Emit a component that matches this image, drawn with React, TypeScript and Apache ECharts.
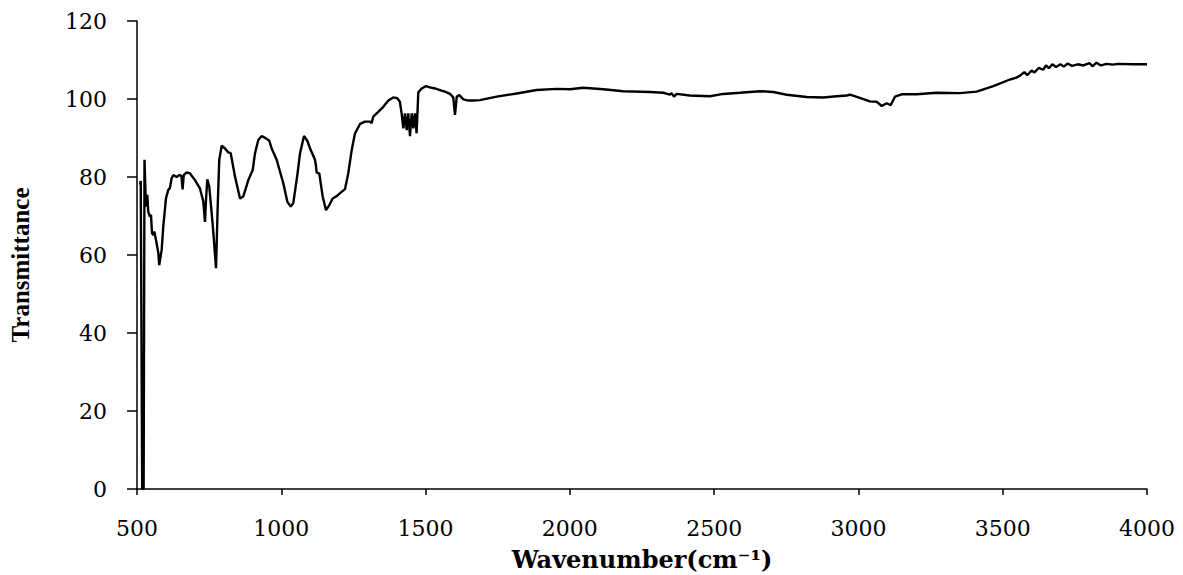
import React, { useEffect, useRef } from "react";
import * as echarts from "echarts";

const wavenumbers: number[] = [
  511, 513, 518, 523, 526, 531, 535.7, 539, 545, 548.5, 552, 556.5, 560, 566, 574, 577, 585.5, 591, 600.5,
  608.5, 614, 620, 626, 637.5, 646.6, 654, 658, 662, 672, 683.7, 701, 718, 729.8, 735.6, 739, 743.6, 750.5,
  762, 773.8, 779.6, 785, 793.5, 805, 816.5, 824.7, 839.6, 857, 868.4, 885.7, 901, 909, 920.3, 932, 947,
  958.5, 966.7, 984, 1007, 1020.8, 1032.6, 1041.6, 1055.6, 1065, 1078.7, 1090, 1102, 1116.8, 1120, 1122.7,
  1131.7, 1143.5, 1155, 1166.5, 1178, 1192, 1209, 1220.8, 1232, 1244, 1255.5, 1272.8, 1290, 1307.5, 1313,
  1318.8, 1336, 1353.5, 1371, 1388, 1402, 1411, 1417, 1423, 1428.7, 1434.6, 1440, 1446, 1452, 1457.5, 1463,
  1469, 1474.8, 1486.5, 1501.5, 1515, 1532.7, 1550, 1567, 1584.6, 1596, 1602, 1608, 1617, 1631, 1648,
  1665.5, 1688.6, 1746.5, 1815.8, 1885, 1954.4, 2000.5, 2046.6, 2116, 2185, 2277.7, 2323.9, 2347, 2352,
  2360.9, 2370, 2416, 2485.4, 2531.5, 2589, 2658.9, 2705, 2751.4, 2820.7, 2878, 2924.6, 2959, 2970.6, 3005,
  3039.7, 3063, 3080.6, 3098, 3111.7, 3126.7, 3149.8, 3201.8, 3271, 3352, 3409.8, 3467.5, 3525, 3545, 3560,
  3575, 3585, 3600, 3610, 3625, 3640, 3650, 3660, 3672, 3685, 3700, 3712, 3725, 3740, 3760, 3780, 3800,
  3812, 3825, 3840, 3860, 3880, 3900, 3950, 4000,
];

const transmittance: number[] = [
  78, 79, 0, 0, 84.4, 72.4, 75.4, 71.1, 69.8, 70.3, 65.6, 65.1, 66, 63.8, 60.5, 57.4, 61.3, 67.3, 74.6,
  76.7, 77.2, 79.7, 80.5, 80, 80.5, 80.3, 76.8, 80.5, 81.2, 80.9, 79.2, 77.1, 73.7, 68.5, 74, 79.4, 77.5,
  68.1, 56.6, 72.4, 84.4, 88, 87.3, 86.3, 86.1, 80.1, 74.5, 75, 79.2, 81.8, 86.1, 89.5, 90.5, 89.9,
  89.3, 87.3, 84.4, 78.4, 73.7, 72.4, 73.3, 80.5, 86.1, 90.5, 89.3, 86.9, 84.4, 83, 81.1,
  80.9, 75, 71.5, 72.8, 74.5, 75.1, 76.2, 76.9, 80.9, 86.9, 91.2, 93.6, 94.2, 94.2, 93.8,
  95.5, 96.7, 98, 99.6, 100.4, 100.2, 99.3, 96.3, 92.5, 96.3, 92, 96.3, 90.5, 96.3, 92.5, 96.3,
  91.2, 101.7, 102.7, 103.3, 103, 102.7, 102.3, 101.9, 101.3, 100.4, 95.9, 100.6, 101, 99.9, 99.6,
  99.6, 99.7, 100.6, 101.4, 102.3, 102.6, 102.5, 102.9, 102.5, 102, 101.8, 101.6, 101.1, 101.5,
  100.6, 101.3, 100.9, 100.7, 101.3, 101.6, 102.0, 101.8, 101.1, 100.5, 100.4, 100.7, 100.9, 101.1, 100.3,
  99.4, 99.3, 98.2, 98.9, 98.4, 100.6, 101.2, 101.2, 101.6, 101.5, 101.9, 103.3, 105, 105.4, 106.0,
  106.9, 106.1, 107.3, 106.8, 108.0, 107.5, 108.6, 107.9, 108.9, 108.2, 108.9, 108.3, 109.1, 108.5, 108.9, 108.6, 109.2,
  108.4, 109.3, 108.6, 109.0, 108.8, 109.0, 108.9, 108.9,
];

const xTicks = { min: 500, max: 4000, interval: 500 };
const yTicks = { min: 0, max: 120, interval: 20 };

const xTitle = "Wavenumber(cm⁻¹)";
const yTitle = "Transmittance";

export default function App() {
  const ref = useRef<HTMLDivElement>(null);

  useEffect(() => {
    if (!ref.current) return;
    const chart = echarts.init(ref.current, undefined, { renderer: "svg" });
    const data = wavenumbers.map((w, i) => [w, transmittance[i]]);
    const axisLabel = {
      color: "#000",
      fontFamily: "DejaVu Serif",
      fontSize: 22,
      formatter: (v: number) => String(v),
    };
    chart.setOption({
      animation: false,
      backgroundColor: "#fff",
      grid: {
        left: 137,
        right: 36,
        top: 21,
        bottom: 86,
        containLabel: false,
        outerBoundsMode: "none",
      },
      xAxis: {
        type: "value",
        min: xTicks.min,
        max: xTicks.max,
        interval: xTicks.interval,
        name: xTitle,
        nameLocation: "middle",
        nameGap: 58,
        nameTextStyle: {
          color: "#000",
          fontFamily: "DejaVu Serif",
          fontWeight: "bold",
          fontSize: 24,
        },
        axisLine: { show: true, onZero: false, lineStyle: { color: "#000", width: 1.5 } },
        axisTick: { show: true, length: 6, lineStyle: { color: "#000", width: 1.5 } },
        splitLine: { show: false },
        axisLabel: { ...axisLabel, margin: 28 },
      },
      yAxis: {
        type: "value",
        min: yTicks.min,
        max: yTicks.max,
        interval: yTicks.interval,
        name: yTitle,
        nameLocation: "middle",
        nameGap: 104,
        nameTextStyle: {
          color: "#000",
          fontFamily: "Liberation Serif",
          fontWeight: "bold",
          fontSize: 25,
          padding: [0, 20, 0, 0],
        },
        axisLine: { show: true, onZero: false, lineStyle: { color: "#000", width: 1.5 } },
        axisTick: { show: true, length: 10, lineStyle: { color: "#000", width: 1.5 } },
        splitLine: { show: false },
        axisLabel: { ...axisLabel, margin: 30 },
      },
      series: [
        {
          type: "line",
          data,
          showSymbol: false,
          symbol: "none",
          smooth: false,
          lineStyle: { color: "#000", width: 2.4 },
        },
      ],
    });
    return () => chart.dispose();
  }, []);

  return (
    <div
      ref={ref}
      style={{ position: "absolute", left: 0, top: 0, width: 1183, height: 575, background: "#fff" }}
    />
  );
}
